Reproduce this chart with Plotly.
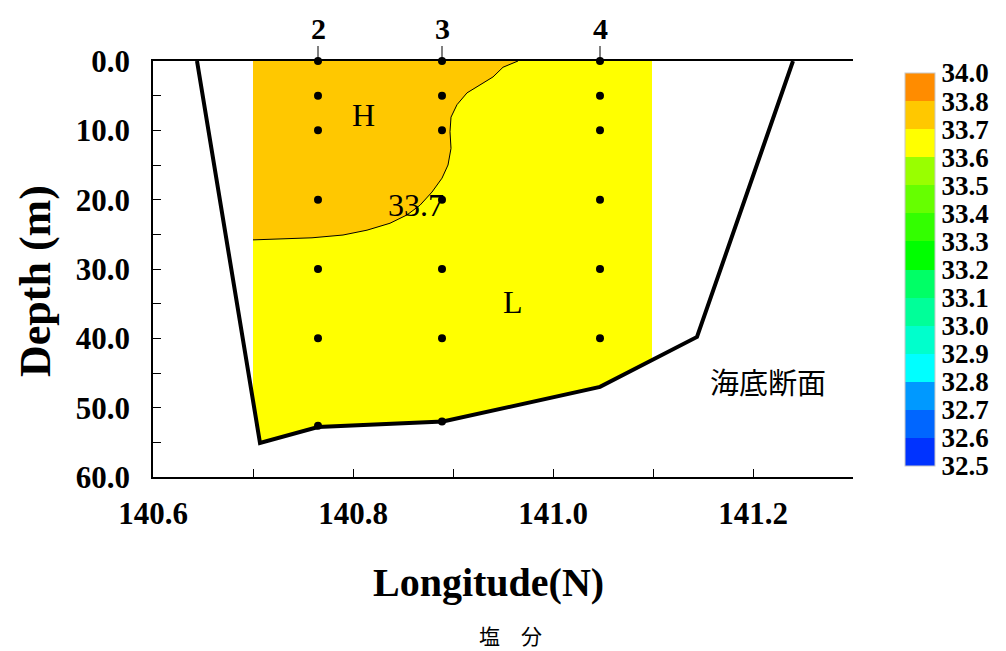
import plotly.graph_objects as go

# ---------------- data ----------------
# seafloor profile (longitude, depth m)
seafloor_lon = [140.644, 140.707, 140.765, 140.890, 141.047, 141.144, 141.240]
seafloor_depth = [0.0, 55.1, 52.8, 52.0, 47.0, 39.8, 0.0]

# extent of the interpolated salinity field
field_lon_min = 140.700
field_lon_max = 141.099

# 33.7 isohaline (from surface down to the left edge of the field)
contour_lon = [140.965, 140.950, 140.940, 140.927, 140.914, 140.904, 140.898, 140.897,
               140.898, 140.895, 140.889, 140.879, 140.867, 140.854, 140.837, 140.814,
               140.790, 140.759, 140.700]
contour_depth = [0.0, 0.9, 2.3, 3.5, 4.6, 6.3, 8.1, 10.2,
                 12.6, 15.0, 16.9, 18.9, 20.8, 22.2, 23.4, 24.4,
                 25.1, 25.5, 25.8]

# stations and sampling depths
station_names = ["2", "3", "4"]
station_lon = [140.765, 140.889, 141.047]
station_depths = [[0, 5, 10, 20, 30, 40, 52.6],
                  [0, 5, 10, 20, 30, 40, 52.0],
                  [0, 5, 10, 20, 30, 40]]

# colour scale (salinity)
salinity_levels = ["32.5", "32.6", "32.7", "32.8", "32.9", "33.0", "33.1", "33.2",
                   "33.3", "33.4", "33.5", "33.6", "33.7", "33.8", "34.0"]
band_colors = ["#0033FF", "#0066FF", "#0099FF", "#00FFFF", "#00FFCC", "#00FF99",
               "#00FF66", "#00FF00", "#33FF00", "#66FF00", "#99FF00", "#FFFF00",
               "#FFC800", "#FF8C00"]

x_ticks = [140.6, 140.7, 140.8, 140.9, 141.0, 141.1, 141.2, 141.3]
x_ticklabels = ["140.6", "", "140.8", "", "141.0", "", "141.2", ""]
y_ticks = [0, 5, 10, 15, 20, 25, 30, 35, 40, 45, 50, 55, 60]
y_ticklabels = ["0.0", "", "10.0", "", "20.0", "", "30.0", "", "40.0", "", "50.0", "", "60.0"]

# ---------------- helpers ----------------
def seafloor_at(lon):
    for i in range(len(seafloor_lon) - 1):
        a, b = seafloor_lon[i], seafloor_lon[i + 1]
        if a <= lon <= b:
            t = (lon - a) / (b - a)
            return seafloor_depth[i] + t * (seafloor_depth[i + 1] - seafloor_depth[i])
    return None

SERIF = "Liberation Serif"
CJK = "Noto Sans CJK JP"

# page geometry (body margin removed by post_script below)
PLOT_L, PLOT_T, PLOT_W, PLOT_H = 153, 61, 700, 416
FIG_W, FIG_H = 1006, 651


def px_x(x):
    return (x - PLOT_L) / PLOT_W


def px_y(y):
    return (PLOT_T + PLOT_H - y) / PLOT_H


fig = go.Figure()

# yellow (33.6-33.7) field: bounded by field edges and the seafloor
inner = [(lo, d) for lo, d in zip(seafloor_lon, seafloor_depth) if field_lon_min < lo < field_lon_max]
inner = sorted(inner, key=lambda p: -p[0])
yl_lon = [field_lon_min, field_lon_max, field_lon_max] + [p[0] for p in inner] + [field_lon_min]
yl_dep = [0, 0, seafloor_at(field_lon_max)] + [p[1] for p in inner] + [seafloor_at(field_lon_min)]
fig.add_trace(go.Scatter(x=yl_lon, y=yl_dep, fill="toself", fillcolor=band_colors[11],
                         mode="none", hoverinfo="skip", showlegend=False))

# orange (33.7-33.8) field
or_lon = [field_lon_min] + contour_lon
or_dep = [0] + contour_depth
fig.add_trace(go.Scatter(x=or_lon, y=or_dep, fill="toself", fillcolor=band_colors[12],
                         mode="none", hoverinfo="skip", showlegend=False))

# isohaline line
fig.add_trace(go.Scatter(x=contour_lon, y=contour_depth, mode="lines",
                         line=dict(color="black", width=1), hoverinfo="skip", showlegend=False))

# seafloor
fig.add_trace(go.Scatter(x=seafloor_lon, y=seafloor_depth, mode="lines",
                         line=dict(color="black", width=4), hoverinfo="skip", showlegend=False))

# sampling points
px, py = [], []
for lo, ds in zip(station_lon, station_depths):
    for d in ds:
        px.append(lo)
        py.append(d)
fig.add_trace(go.Scatter(x=px, y=py, mode="markers", cliponaxis=False,
                         marker=dict(color="black", size=8), hoverinfo="skip", showlegend=False))

# colour bar (dummy trace)
n = len(band_colors)
cscale = []
for i, c in enumerate(band_colors):
    cscale.append([i / n, c])
    cscale.append([(i + 1) / n, c])
fig.add_trace(go.Scatter(
    x=[140.0], y=[0], mode="markers", hoverinfo="skip", showlegend=False,
    marker=dict(size=1, color=[0], cmin=0, cmax=n, colorscale=cscale, showscale=True,
                colorbar=dict(
                    x=px_x(905), xanchor="left", xref="paper",
                    y=px_y(269.5), yanchor="middle",
                    len=393, lenmode="pixels", thickness=30, thicknessmode="pixels",
                    tickvals=list(range(n + 1)), ticktext=salinity_levels,
                    ticks="", outlinewidth=1, outlinecolor="#c8c8c8",
                    tickfont=dict(family=SERIF, size=27, color="black", weight="bold"),
                    xpad=0, ypad=0,
                ))))

# station labels
for name, lo in zip(station_names, station_lon):
    fig.add_annotation(x=lo, y=0, xref="x", yref="y", text=name, showarrow=True,
                       arrowhead=0, arrowwidth=1, arrowcolor="black", ax=0, ay=-33,
                       standoff=0, font=dict(family=SERIF, size=30, color="black", weight="bold"))

# labels in the plot
fig.add_annotation(x=140.81, y=7.8, text="H", showarrow=False,
                   font=dict(family=SERIF, size=32, color="black"))
fig.add_annotation(x=140.863, y=20.8, text="33.7", showarrow=False,
                   font=dict(family=SERIF, size=32, color="black"))
fig.add_annotation(x=140.96, y=34.8, text="L", showarrow=False,
                   font=dict(family=SERIF, size=32, color="black"))
fig.add_annotation(x=141.215, y=46.2, text="海底断面", showarrow=False,
                   font=dict(family=CJK, size=29, color="black"))

# axis titles and caption
fig.add_annotation(x=px_x(35), y=px_y(281), xref="paper", yref="paper",
                   xanchor="center", yanchor="middle",
                   text="Depth (m)", textangle=-90, showarrow=False,
                   font=dict(family=SERIF, size=44, color="black", weight="bold"))
fig.add_annotation(x=px_x(488), y=px_y(582), xref="paper", yref="paper",
                   xanchor="center", yanchor="middle",
                   text="Longitude(N)", showarrow=False,
                   font=dict(family=SERIF, size=40, color="black", weight="bold"))
fig.add_annotation(x=px_x(510), y=px_y(635), xref="paper", yref="paper",
                   xanchor="center", yanchor="middle",
                   text="塩　分", showarrow=False,
                   font=dict(family=CJK, size=21, color="black"))

fig.update_xaxes(range=[140.6, 141.3], tickvals=x_ticks, ticktext=x_ticklabels,
                 ticks="inside", ticklen=8, tickcolor="black", tickwidth=1,
                 showline=True, linecolor="black", linewidth=1.5, mirror=True,
                 showgrid=False, zeroline=False, ticklabelstandoff=8,
                 tickfont=dict(family=SERIF, size=31, color="black", weight="bold"))
fig.update_yaxes(range=[60, 0], tickvals=y_ticks, ticktext=y_ticklabels,
                 ticks="inside", ticklen=8, tickcolor="black", tickwidth=1,
                 showline=True, linecolor="black", linewidth=1.5,
                 showgrid=False, zeroline=False, ticklabelstandoff=15,
                 tickfont=dict(family=SERIF, size=31, color="black", weight="bold"))

fig.update_layout(width=FIG_W, height=FIG_H, autosize=False,
                  margin=dict(l=PLOT_L, r=FIG_W - PLOT_L - PLOT_W, t=PLOT_T,
                              b=FIG_H - PLOT_T - PLOT_H, pad=0, autoexpand=False),
                  plot_bgcolor="white", paper_bgcolor="white",
                  font=dict(family=SERIF, color="black"), showlegend=False)

fig.write_html("out.html", config={"displayModeBar": False},
               post_script="document.body.style.margin='0';document.body.style.overflow='hidden';")
